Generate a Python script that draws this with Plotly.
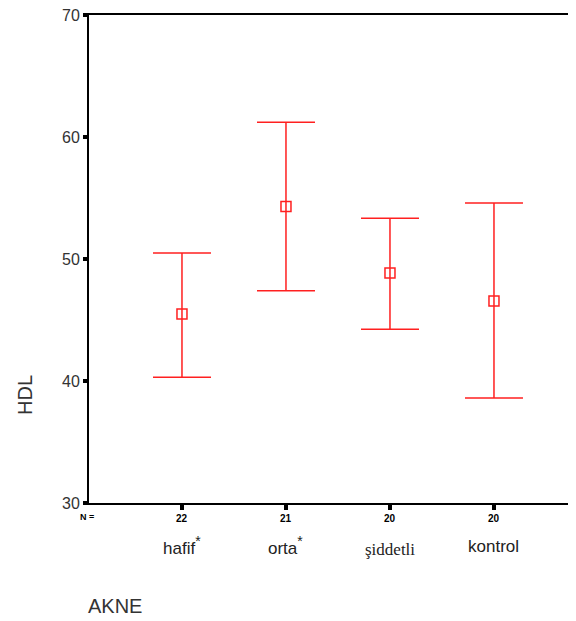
import plotly.graph_objects as go

categories = ["hafif", "orta", "şiddetli", "kontrol"]
n_counts = ["22", "21", "20", "20"]
means = [45.5, 54.3, 48.85, 46.55]
upper = [50.5, 61.2, 53.35, 54.6]
lower = [40.3, 47.4, 44.25, 38.6]
y_ticks = [30, 40, 50, 60, 70]

xs = list(range(len(categories)))
err_plus = [u - m for u, m in zip(upper, means)]
err_minus = [m - l for m, l in zip(means, lower)]

RED = "#ff2020"
# page offset of the figure inside the browser window
OX, OY = 6, 7
W, H = 576 - OX - 2, 621 - OY - 1
# target screen positions of the plot area
SL, ST, SB = 87, 14, 502
L = SL - OX
T = ST - OY
B = H - (SB - OY)
R = 0
plot_w = W - L - R
plot_h = H - T - B

fig = go.Figure()
fig.add_trace(go.Scatter(
    x=xs, y=means, mode="markers",
    marker=dict(symbol="square-open", size=10, color=RED, line=dict(width=1.5, color=RED)),
    error_y=dict(type="data", symmetric=False, array=err_plus, arrayminus=err_minus,
                 color=RED, thickness=1.5, width=29),
    showlegend=False, hoverinfo="skip",
))

x0 = -0.894
x1 = x0 + plot_w / 104.0

fig.update_layout(
    width=W, height=H,
    margin=dict(l=L, r=R, t=T, b=B, pad=0),
    plot_bgcolor="white", paper_bgcolor="white",
    font=dict(family="Arial, Liberation Sans, sans-serif", color="#333"),
    xaxis=dict(range=[x0, x1], showgrid=False, zeroline=False, automargin=False,
               showline=True, linecolor="black", linewidth=2, mirror=True,
               tickvals=xs, showticklabels=False, ticks="outside",
               ticklen=5, tickwidth=4, tickcolor="black"),
    yaxis=dict(range=[30, 70], showgrid=False, zeroline=False, automargin=False,
               showline=True, linecolor="black", linewidth=2,
               tickvals=y_ticks, ticks="outside", ticklen=4, tickwidth=4,
               ticklabeloverflow="allow",
               tickcolor="black", tickfont=dict(size=16, color="#333")),
)


def px_x(x):
    return (x - OX - L) / plot_w


def px_y(y):
    return (H - B - (y - OY)) / plot_h


anns = []
anns.append(dict(x=px_x(85), y=px_y(516), xref="paper", yref="paper", text="<b>N =</b>",
                 showarrow=False, xanchor="center", yanchor="middle",
                 font=dict(size=9, color="black")))
for i, n in enumerate(n_counts):
    anns.append(dict(x=i, y=px_y(517), xref="x", yref="paper", text="<b>" + n + "</b>",
                     showarrow=False, xanchor="center", yanchor="middle",
                     font=dict(size=10, color="black")))
cat_text = ["hafif<span style='font-size:20px'><sup>*</sup></span>",
            "orta<span style='font-size:20px'><sup>*</sup></span>",
            "şiddetli", "kontrol"]
cat_font = ["Arial, Liberation Sans, sans-serif", "Arial, Liberation Sans, sans-serif",
            "Liberation Serif, Times New Roman, serif", "Arial, Liberation Sans, sans-serif"]
cat_y = [544, 544, 548, 545]
for i, (t, f, cy) in enumerate(zip(cat_text, cat_font, cat_y)):
    anns.append(dict(x=i, y=px_y(cy), xref="x", yref="paper", text=t, showarrow=False,
                     xanchor="center", yanchor="middle",
                     font=dict(size=17, color="#222", family=f)))
anns.append(dict(x=px_x(23), y=px_y(394), xref="paper", yref="paper", text="HDL",
                 showarrow=False, textangle=-90, xanchor="center", yanchor="middle",
                 font=dict(size=20, color="#333")))
anns.append(dict(x=px_x(84), y=px_y(605), xref="paper", yref="paper", text="AKNE",
                 showarrow=False, xanchor="left", yanchor="middle",
                 font=dict(size=20, color="#333")))
fig.update_layout(annotations=anns)

fig.write_html("out.html")
